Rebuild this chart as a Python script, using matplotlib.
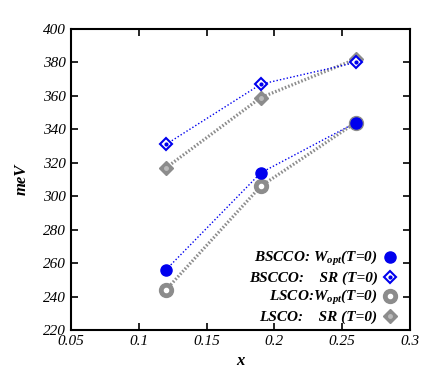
import matplotlib.pyplot as plt
from matplotlib.legend_handler import HandlerTuple

# doping values
x = [0.12, 0.19, 0.26]

# energies (meV)
bscco_wopt = [256, 314, 344]
bscco_sr = [331, 367, 380]
lsco_wopt = [244, 306, 344]
lsco_sr = [317, 359, 382]

labels = [r"BSCCO: W$_{opt}$(T=0)", "BSCCO:    SR (T=0)",
          r"LSCO:W$_{opt}$(T=0)", "LSCO:    SR (T=0)"]

plt.rcParams['font.family'] = 'Liberation Serif'
plt.rcParams['mathtext.fontset'] = 'custom'
plt.rcParams['mathtext.rm'] = 'Liberation Serif:bold:italic'
plt.rcParams['mathtext.it'] = 'Liberation Serif:bold:italic'

fig = plt.figure(figsize=(4.36, 3.82), dpi=100)
ax = fig.add_axes([0.163, 0.136, 0.777, 0.788])

blue = '#0000ee'
gray = '#8c8c8c'

# gray lines first (underneath)
ax.plot(x, lsco_sr, color=gray, lw=2.3, ls=(0, (0.5, 0.6)))
ax.plot(x, lsco_wopt, color=gray, lw=2.3, ls=(0, (0.5, 0.6)))
ax.plot(x, bscco_sr, color=blue, lw=1, ls=(0, (1, 1.5)))
ax.plot(x, bscco_wopt, color=blue, lw=1, ls=(0, (1, 1.5)))

h_lw1, = ax.plot(x, lsco_wopt, 'o', color=gray, ms=10)
h_lw2, = ax.plot(x, lsco_wopt, 'o', color='white', ms=3)
h_ls1, = ax.plot(x, lsco_sr, 'D', color=gray, ms=7.5)
h_ls2, = ax.plot(x, lsco_sr, 'o', color='#bbbbbb', ms=2.5)
h_bw, = ax.plot(x, bscco_wopt, 'o', color=blue, ms=8)
h_bs1, = ax.plot(x, bscco_sr, 'D', mfc='white', mec=blue, mew=1.5, ms=6.5)
h_bs2, = ax.plot(x, bscco_sr, 'o', color=blue, ms=2)

ax.set_xlim(0.05, 0.3)
ax.set_ylim(220, 400)
ax.set_xticks([0.05, 0.1, 0.15, 0.2, 0.25, 0.3])
ax.set_xticklabels(['0.05', '0.1', '0.15', '0.2', '0.25', '0.3'])
ax.set_yticks(range(220, 401, 20))
ax.tick_params(direction='in', top=True, right=True, length=5, width=1.2,
               labelsize=11)
for t in ax.get_xticklabels() + ax.get_yticklabels():
    t.set_fontstyle('italic')
for s in ax.spines.values():
    s.set_linewidth(1.5)

ax.set_xlabel('x', fontsize=12, fontweight='bold', fontstyle='italic', labelpad=4)
ax.set_ylabel('meV', fontsize=12, fontweight='bold', fontstyle='italic', labelpad=10)

leg = ax.legend([h_bw, (h_bs1, h_bs2), (h_lw1, h_lw2), (h_ls1, h_ls2)], labels,
                handler_map={tuple: HandlerTuple(ndivide=1, pad=0)},
                loc='lower right', bbox_to_anchor=(0.988, -0.006),
                markerfirst=False, frameon=False,
                handlelength=1.0, handletextpad=0.34, labelspacing=0.2,
                borderaxespad=0.1,
                prop={'size': 11, 'weight': 'bold', 'style': 'italic'})

plt.savefig("out.png", dpi=100)
